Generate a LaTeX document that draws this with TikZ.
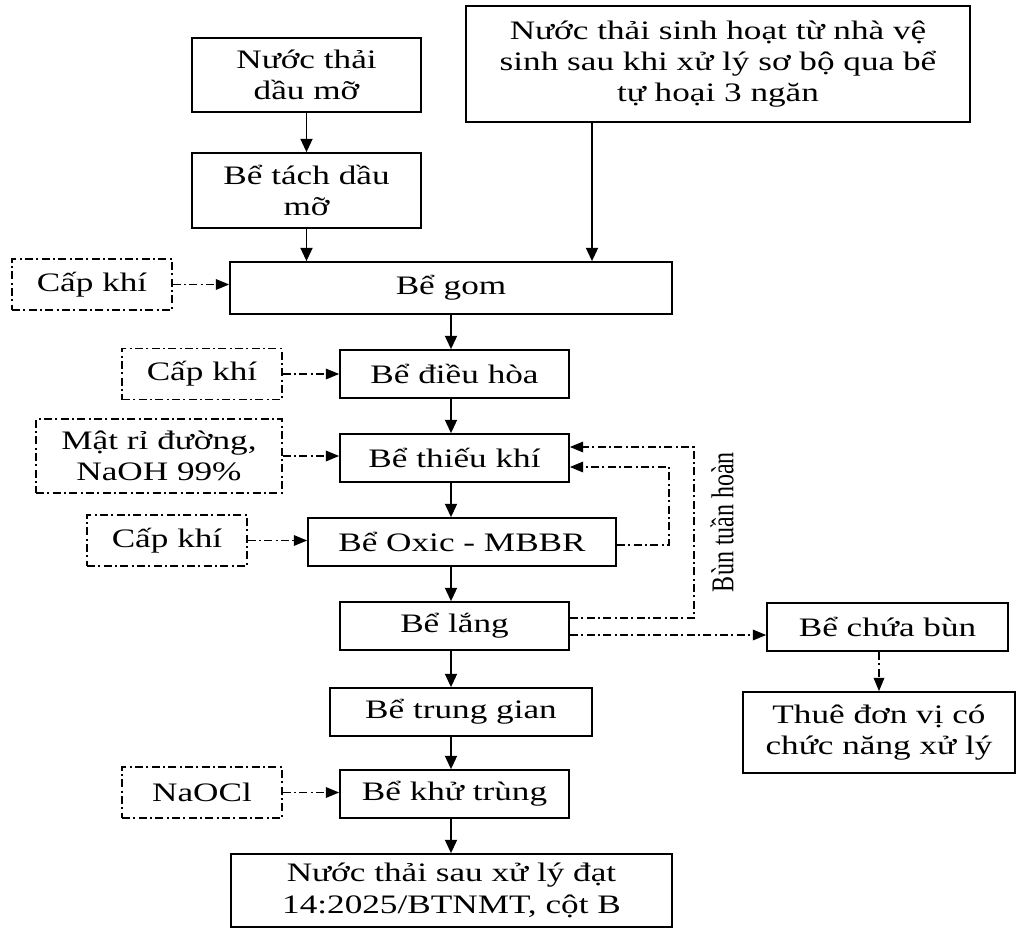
\documentclass[tikz,border=0pt]{standalone}
\usepackage{fontspec}
\setmainfont{Liberation Serif}
\usepackage{graphicx}
\usetikzlibrary{arrows.meta}
\newcommand{\sx}[1]{\scalebox{1.32}[1]{#1}}
\tikzset{
  box/.style={draw, line width=1.3pt, inner sep=0pt, align=center, font=\fontsize{20}{23.5}\selectfont},
  dbox/.style={box, line width=1pt, dash pattern=on 6pt off 2.5pt on 1.5pt off 2.5pt},
  sz/.style 2 args={minimum width=#1*0.75pt, minimum height=#2*0.75pt},
  flow/.style={line width=1.4pt, -{Triangle[length=10pt,width=9pt]}},
  dflow/.style={line width=1pt, dash pattern=on 6pt off 2.5pt on 1.5pt off 2.5pt, -{Triangle[length=10pt,width=8pt]}},
  lbl/.style={inner sep=0pt, font=\fontsize{18}{20}\selectfont}
}
\begin{document}
\begin{tikzpicture}[x=0.75pt, y=-0.75pt]
\useasboundingbox (0,0) rectangle (1016,928);
% main nodes
\node[box, sz={229}{74}] (n1) at (306.5,75) {\sx{Nước thải}\\\sx{dầu mỡ}};
\node[box, sz={229}{75}] (n2) at (306.5,190.5) {\sx{Bể tách dầu}\\\sx{mỡ}};
\node[box, sz={504}{116}] (top) at (718,64) {\sx{Nước thải sinh hoạt từ nhà vệ}\\\sx{sinh sau khi xử lý sơ bộ qua bể}\\\sx{tự hoại 3 ngăn}};
\node[box, sz={442}{52}] (gom) at (451,288) {\sx{Bể gom}};
\node[box, sz={229}{48}] (dh) at (454.5,374) {\sx{Bể điều hòa}};
\node[box, sz={229}{48}] (tk) at (454.5,458) {\sx{Bể thiếu khí}};
\node[box, sz={308}{48}] (ox) at (462,542) {\sx{Bể Oxic - MBBR}};
\node[box, sz={229}{48}] (lang) at (454.5,626) {\sx{Bể lắng}};
\node[box, sz={262}{48}] (tg) at (461,712) {\sx{Bể trung gian}};
\node[box, sz={229}{48}] (kt) at (454.5,794) {\sx{Bể khử trùng}};
\node[box, sz={441}{73}] (fin) at (451.5,890.5) {\sx{Nước thải sau xử lý đạt}\\\sx{14:2025/BTNMT, cột B}};
\node[box, sz={241}{48}] (cb) at (887.5,627) {\sx{Bể chứa bùn}};
\node[box, sz={272}{81}] (thue) at (879,732.5) {\sx{Thuê đơn vị có}\\\sx{chức năng xử lý}};
% dashed input nodes
\node[dbox, sz={160}{51}] (ck1) at (92,284.5) {\sx{Cấp khí}};
\node[dbox, sz={160}{51}] (ck2) at (202,374) {\sx{Cấp khí}};
\node[dbox, sz={246}{74}] (mr) at (159,456) {\sx{Mật rỉ đường,}\\\sx{NaOH 99\%}};
\node[dbox, sz={160}{51}] (ck3) at (167,540.5) {\sx{Cấp khí}};
\node[dbox, sz={160}{51}] (naocl) at (202,792.5) {\sx{NaOCl}};
% label
\node[lbl, rotate=90] (bth) at (722,522) {\scalebox{1}[1.32]{Bùn tuần hoàn}};
% helper coordinates
\coordinate (col) at (451,0);
\coordinate (col2) at (592,0);
\coordinate (r1) at (694,0);
\coordinate (r2) at (669,0);
% solid flow
\draw[flow] (n1) -- (n2);
\draw[flow] (n2.south) -- (n2.south |- gom.north);
\draw[flow] (col2 |- top.south) -- (col2 |- gom.north);
\draw[flow] (col |- gom.south) -- (col |- dh.north);
\draw[flow] (col |- dh.south) -- (col |- tk.north);
\draw[flow] (col |- tk.south) -- (col |- ox.north);
\draw[flow] (col |- ox.south) -- (col |- lang.north);
\draw[flow] (col |- lang.south) -- (col |- tg.north);
\draw[flow] (col |- tg.south) -- (col |- kt.north);
\draw[flow] (col |- kt.south) -- (col |- fin.north);
% dashed inputs
\draw[dflow] (ck1.east) -- (ck1.east -| gom.west);
\draw[dflow] (ck2.east) -- (ck2.east -| dh.west);
\draw[dflow] (mr.east) -- (mr.east -| tk.west);
\draw[dflow] (ck3.east) -- (ck3.east -| ox.west);
\draw[dflow] (naocl.east) -- (naocl.east -| kt.west);
% recirculation
\draw[dflow] (lang.east |- 0,618) -- (r1 |- 0,618) -- (r1 |- 0,447) -- (tk.east |- 0,447);
\draw[dflow] (ox.east |- 0,545) -- (r2 |- 0,545) -- (r2 |- 0,467) -- (tk.east |- 0,467);
% sludge
\draw[dflow] (lang.east |- 0,635) -- (cb.west |- 0,635);
\draw[dflow] (cb.south -| thue.north) -- (thue.north);
\end{tikzpicture}
\end{document}
